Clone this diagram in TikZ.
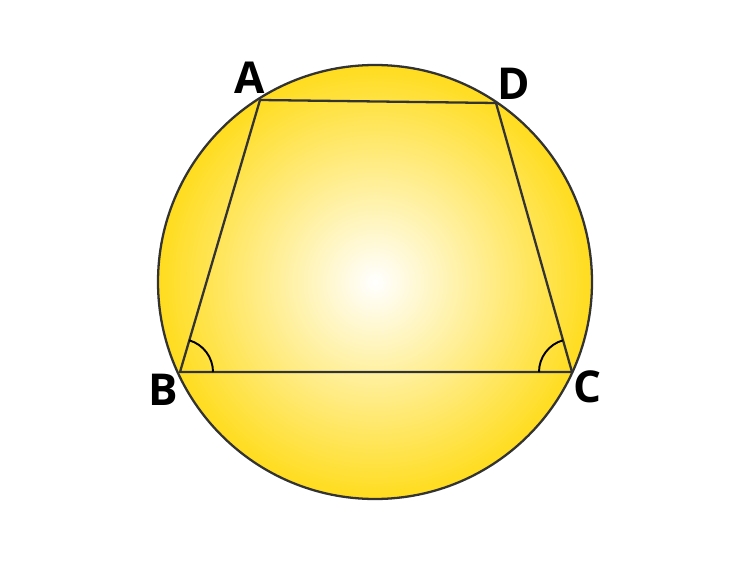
\documentclass[tikz,border=0pt]{standalone}
\usepackage{fontspec}
\setmainfont{Open Sans}
\usetikzlibrary{positioning,calc}
\definecolor{ringyellow}{HTML}{FFDC1E}
\definecolor{edgegray}{HTML}{333333}
\tikzset{
  vertex/.style={inner sep=0pt, font=\fontsize{25}{25}\selectfont\bfseries},
  side/.style={draw=edgegray, line width=1.3pt, line join=round},
  anglearc/.style={draw=black, line width=1.1pt},
}
\begin{document}
\begin{tikzpicture}[x=0.02cm, y=-0.02cm]
  \useasboundingbox (0,0) rectangle (750,564);
  \coordinate (O) at (375,282);
  \shade[inner color=white, outer color=ringyellow] (O) circle[radius=217];
  \draw[side] (O) circle[radius=217];

  \coordinate (A) at (260,100);
  \coordinate (D) at (496,103);
  \coordinate (B) at (180,372);
  \coordinate (C) at (572,372);
  \draw[side] (A) -- (D) -- (C) -- (B) -- cycle;

  % angle marks at the base
  \draw[anglearc] ($(B)!0.0842!(C)$) arc[start angle=0, end angle=-73.6, radius=33];
  \draw[anglearc] ($(C)!0.0842!(B)$) arc[start angle=180, end angle=254.2, radius=33];

  \node[vertex] (labelA) at (250,78) {A};
  \node[vertex] (labelD) at (514,84) {D};
  \node[vertex] (labelB) at (163,390) {B};
  \node[vertex] (labelC) at (587,387) {C};
\end{tikzpicture}
\end{document}
